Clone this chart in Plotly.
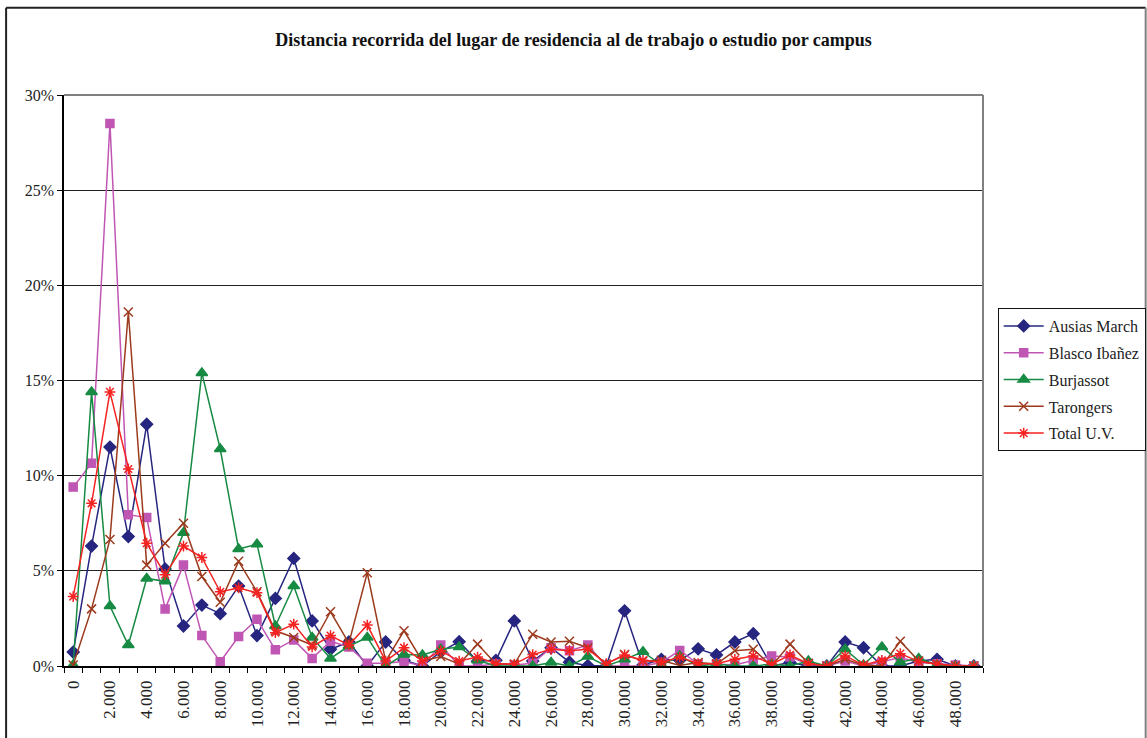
import plotly.graph_objects as go

# distancia en metros (categorias del eje x)
distancias = [0, 1000, 2000, 3000, 4000, 5000, 6000, 7000, 8000, 9000,
              10000, 11000, 12000, 13000, 14000, 15000, 16000, 17000, 18000, 19000,
              20000, 21000, 22000, 23000, 24000, 25000, 26000, 27000, 28000, 29000,
              30000, 31000, 32000, 33000, 34000, 35000, 36000, 37000, 38000, 39000,
              40000, 41000, 42000, 43000, 44000, 45000, 46000, 47000, 48000, 49000]

x_tickvals = [0, 2000, 4000, 6000, 8000, 10000, 12000, 14000, 16000, 18000, 20000, 22000,
              24000, 26000, 28000, 30000, 32000, 34000, 36000, 38000, 40000, 42000, 44000,
              46000, 48000]
x_ticktext = ["0", "2.000", "4.000", "6.000", "8.000", "10.000", "12.000", "14.000", "16.000",
              "18.000", "20.000", "22.000", "24.000", "26.000", "28.000", "30.000", "32.000",
              "34.000", "36.000", "38.000", "40.000", "42.000", "44.000", "46.000", "48.000"]

# porcentajes (%)
ausias_march = [0.73, 6.3, 11.5, 6.8, 12.7, 5.1, 2.1, 3.2, 2.75, 4.2,
                1.6, 3.55, 5.65, 2.37, 0.88, 1.26, 0.0, 1.26, 0.3, 0.0,
                0.75, 1.28, 0.25, 0.3, 2.37, 0.26, 0.96, 0.2, 0.02, 0.0,
                2.9, 0.05, 0.35, 0.3, 0.9, 0.58, 1.26, 1.7, 0.0, 0.18,
                0.0, 0.0, 1.26, 0.96, 0.0, 0.0, 0.26, 0.35, 0.0, 0.0]
blasco_ibanez = [9.4, 10.65, 28.5, 7.95, 7.8, 3.0, 5.3, 1.6, 0.22, 1.55,
                 2.45, 0.85, 1.37, 0.4, 1.3, 1.0, 0.14, 0.14, 0.23, 0.0,
                 1.1, 0.0, 0.0, 0.1, 0.05, 0.14, 0.96, 0.8, 1.1, 0.0,
                 0.0, 0.0, 0.18, 0.82, 0.1, 0.1, 0.05, 0.3, 0.53, 0.47,
                 0.1, 0.0, 0.26, 0.0, 0.2, 0.44, 0.18, 0.12, 0.05, 0.0]
burjassot = [0.05, 14.4, 3.15, 1.1, 4.6, 4.45, 7.0, 15.4, 11.4, 6.15,
             6.4, 2.1, 4.2, 1.5, 0.4, 1.05, 1.5, 0.0, 0.6, 0.58,
             0.88, 1.0, 0.3, 0.0, 0.0, 0.0, 0.18, 0.0, 0.5, 0.0,
             0.35, 0.75, 0.05, 0.53, 0.0, 0.1, 0.0, 0.0, 0.1, 0.0,
             0.26, 0.0, 0.88, 0.05, 1.0, 0.2, 0.4, 0.05, 0.0, 0.0]
tarongers = [0.05, 3.0, 6.65, 18.6, 5.3, 6.45, 7.5, 4.7, 3.35, 5.5,
             3.9, 1.85, 1.5, 1.1, 2.85, 1.2, 4.9, 0.26, 1.85, 0.26,
             0.5, 0.1, 1.15, 0.1, 0.1, 1.67, 1.26, 1.3, 0.96, 0.1,
             0.6, 0.26, 0.3, 0.03, 0.18, 0.1, 0.8, 0.88, 0.0, 1.15,
             0.14, 0.0, 0.35, 0.05, 0.0, 1.3, 0.26, 0.1, 0.0, 0.0]
total_uv = [3.65, 8.55, 14.4, 10.35, 6.45, 4.8, 6.3, 5.7, 3.9, 4.1,
            3.85, 1.75, 2.2, 1.0, 1.6, 1.1, 2.15, 0.26, 0.96, 0.26,
            0.8, 0.26, 0.47, 0.12, 0.1, 0.6, 0.88, 0.8, 0.88, 0.12,
            0.58, 0.3, 0.18, 0.47, 0.12, 0.12, 0.35, 0.53, 0.1, 0.58,
            0.12, 0.0, 0.53, 0.05, 0.3, 0.65, 0.23, 0.1, 0.0, 0.0]

series = [
    ("Ausias March", ausias_march, "#262680", "diamond", 9),
    ("Blasco Ibañez", blasco_ibanez, "#c056b4", "square", 8),
    ("Burjassot", burjassot, "#178a43", "triangle-up", 10),
    ("Tarongers", tarongers, "#9c3a1e", "x-thin-open", 9),
    ("Total U.V.", total_uv, "#f52222", "asterisk-open", 9),
]

FONT = "Liberation Serif, Times New Roman, serif"

fig = go.Figure()
for name, vals, color, symbol, size in series:
    fig.add_trace(go.Scatter(
        x=distancias,
        y=[v / 100 for v in vals],
        mode="lines+markers",
        name=name,
        legendgroup=name,
        line=dict(color=color, width=1.5),
        marker=dict(symbol=symbol, size=size, color=color,
                    line=dict(color=color, width=1.5)),
    ))

# marco del area de trazado (arriba y derecha en gris)
fig.add_shape(type="line", xref="paper", yref="paper", x0=0, x1=1, y0=1, y1=1,
              line=dict(color="#808080", width=2))
fig.add_shape(type="line", xref="paper", yref="paper", x0=1, x1=1, y0=0, y1=1,
              line=dict(color="#808080", width=2))

# marco exterior del grafico
fig.add_shape(type="line", xref="paper", yref="paper", x0=-0.063, x1=1.177, y0=1.153, y1=1.153,
              line=dict(color="#222222", width=2))
fig.add_shape(type="line", xref="paper", yref="paper", x0=-0.063, x1=-0.063, y0=-0.2, y1=1.153,
              line=dict(color="#222222", width=2))
fig.add_shape(type="line", xref="paper", yref="paper", x0=1.177, x1=1.177, y0=-0.2, y1=1.153,
              line=dict(color="#808080", width=2))

fig.update_layout(
    width=1147, height=738,
    margin=dict(l=64, r=164, t=95, b=72, autoexpand=False),
    paper_bgcolor="white",
    plot_bgcolor="white",
    font=dict(family=FONT, size=16, color="#222222"),
    title=dict(text="<b>Distancia recorrida del lugar de residencia al de trabajo o estudio por campus</b>",
               x=0.5, xanchor="center", y=0.946, yanchor="middle",
               font=dict(family=FONT, size=18, color="#111111")),
    legend=dict(x=1.016, xanchor="left", y=0.627, yanchor="top",
                bordercolor="#111111", borderwidth=1, bgcolor="white",
                font=dict(family=FONT, size=16, color="#222222"),
                itemwidth=40, tracegroupgap=3),
    xaxis=dict(
        range=[-500, 49500],
        tickmode="array", tickvals=x_tickvals, ticktext=x_ticktext,
        tickangle=-90, ticks="", ticklabelstandoff=6,
        showgrid=False, zeroline=False,
        showline=True, linecolor="black", linewidth=1.5,
        minor=dict(tickmode="linear", tick0=500, dtick=1000, ticks="outside",
                   ticklen=5, tickcolor="black", showgrid=False),
        tickfont=dict(family=FONT, size=17, color="#222222"),
    ),
    yaxis=dict(
        range=[0, 0.30], dtick=0.05, tickformat=".0%",
        ticks="outside", ticklen=5, tickcolor="black",
        showgrid=True, gridcolor="#222222", gridwidth=1,
        zeroline=False, showline=True, linecolor="black", linewidth=1.5,
        tickfont=dict(family=FONT, size=16, color="#222222"),
    ),
    showlegend=True,
)

fig.write_html("out.html", config={"displayModeBar": False},
               post_script="document.body.style.margin='0';")
